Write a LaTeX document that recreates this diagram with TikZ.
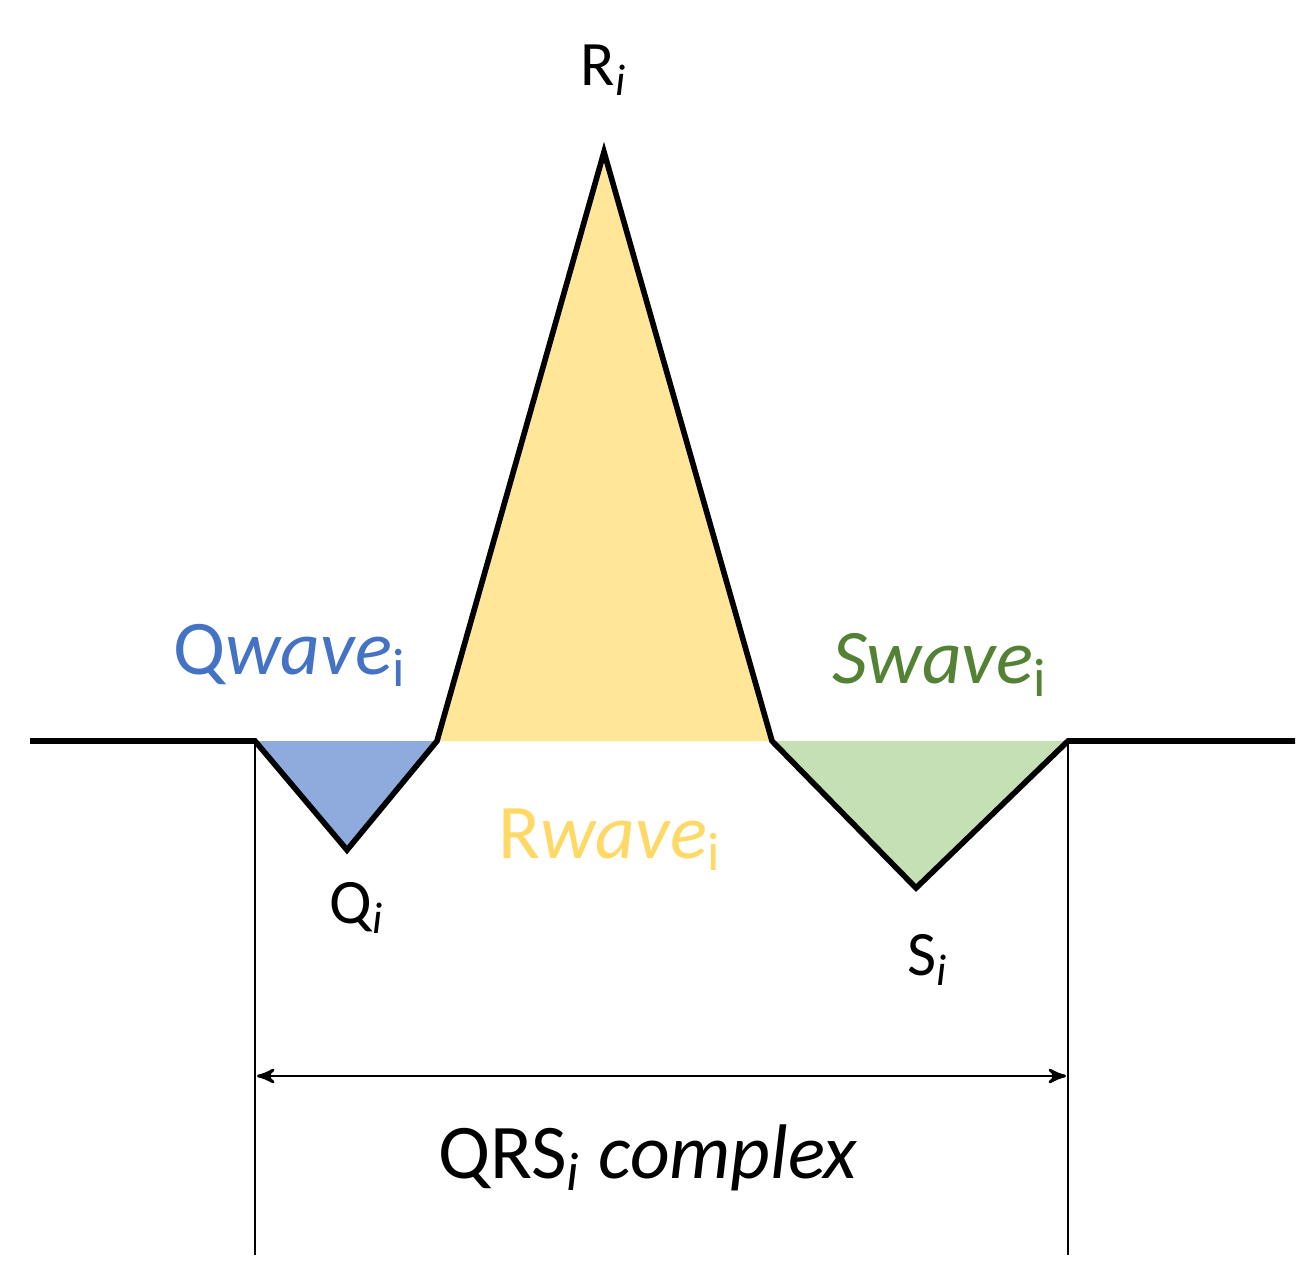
\documentclass[tikz,border=0pt]{standalone}
\usepackage{fontspec}
\setmainfont{Carlito}
\usetikzlibrary{arrows}
\definecolor{qfill}{HTML}{8FAADC}
\definecolor{qtext}{HTML}{4472C4}
\definecolor{rfill}{HTML}{FFE699}
\definecolor{rtext}{HTML}{FFD966}
\definecolor{sfill}{HTML}{C5E0B4}
\definecolor{stext}{HTML}{548235}
\tikzset{
 wave/.style={black, line width=1.6pt, line join=miter},
 peak/.style={font=\fontsize{18}{21}\selectfont},
 wavename/.style={font=\fontsize{22}{26}\selectfont},
}
\begin{document}
\begin{tikzpicture}[x=0.01cm,y=-0.01cm]
\useasboundingbox (0,0) rectangle (1307,1283);
\coordinate (l0) at (30,741);
\coordinate (q0) at (255,741);
\coordinate (q) at (347,850);
\coordinate (r0) at (437,741);
\coordinate (r) at (604,152);
\coordinate (s0) at (772,741);
\coordinate (s) at (916,888);
\coordinate (s1) at (1068,741);
\coordinate (l1) at (1295,741);
\fill[qfill] (q0)--(q)--(r0)--cycle;
\fill[rfill] (r0)--(r)--(s0)--cycle;
\fill[sfill] (s0)--(s)--(s1)--cycle;
\draw[wave] (l0)--(q0)--(q)--(r0)--(r)--(s0)--(s)--(s1)--(l1);
% markers of the complex
\coordinate (b0) at (255,1255);
\coordinate (b1) at (1068,1255);
\draw[black, thin] (q0)--(b0);
\draw[black, thin] (s1)--(b1);
\coordinate (a0) at (257,1076);
\coordinate (a1) at (1066,1076);
\draw[black, thick, <->, >=stealth'] (a0)--(a1);
\node[peak] (rlab) at (604,70) {R\textsubscript{\textit{i}}};
\node[peak] (qlab) at (357,908) {Q\textsubscript{\textit{i}}};
\node[peak] (slab) at (928,960) {S\textsubscript{\textit{i}}};
\node[wavename, text=qtext] (qname) at (290,655) {Q\textit{wave}\textsubscript{i}};
\node[wavename, text=rtext] (rname) at (610,840) {R\textit{wave}\textsubscript{i}};
\node[wavename, text=stext] (sname) at (940,665) {\textit{Swave}\textsubscript{i}};
\node[wavename] (qrs) at (648,1158) {QRS\textsubscript{\textit{i}} \textit{complex}};
\end{tikzpicture}
\end{document}
